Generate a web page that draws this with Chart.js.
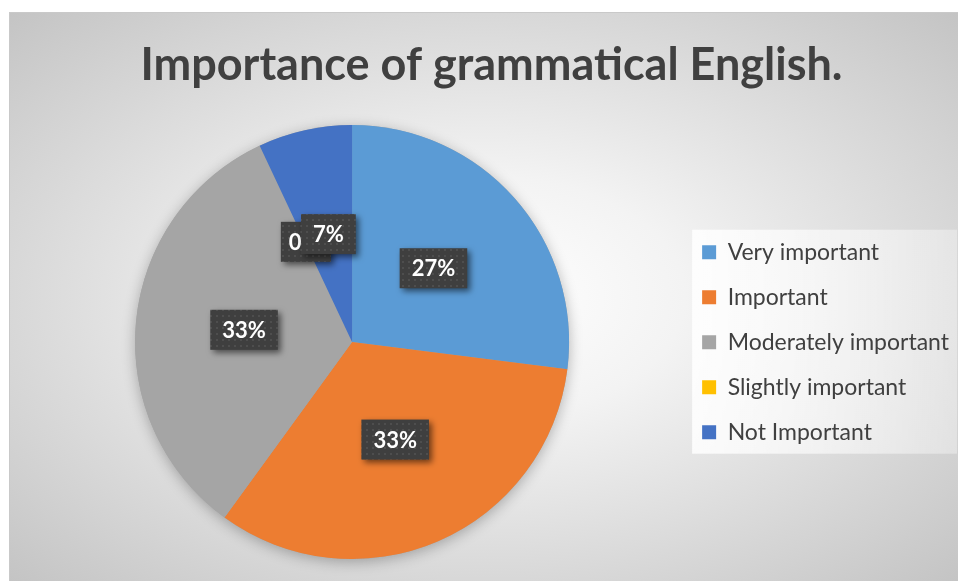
<!DOCTYPE html>
<html>
<head>
<meta charset="utf-8">
<script src="https://cdn.jsdelivr.net/npm/chart.js@4.4.1/dist/chart.umd.min.js"></script>
<style>
  html, body { margin: 0; padding: 0; background: #ffffff; }
  #wrap {
    position: absolute;
    left: 9px;
    top: 12px;
    width: 949px;
    height: 569px;
    border-top: 1px solid #c9c9c9;
    border-left: 1px solid #c9c9c9;
    box-sizing: border-box;
    background: radial-gradient(ellipse farthest-corner at 50% 50%, #ffffff 0%, #f3f3f3 30%, #c4c4c4 100%);
  }
  #wrap canvas { position: absolute; left: 0; top: 0; }
</style>
</head>
<body>
<div id="wrap"><canvas id="myChart"></canvas></div>
<script>
// 資料
const categories = ['Very important', 'Important', 'Moderately important', 'Slightly important', 'Not Important'];
const percents = [27, 33, 33, 0, 7];
const sliceColors = ['#5B9BD5', '#ED7D31', '#A5A5A5', '#FFC000', '#4472C4'];

const FONT = 'Lato, "Liberation Sans", sans-serif';

// 標籤文字：0 不加 %
function labelText(v) {
    return v === 0 ? '0' : v + '%';
}

// 深灰點狀底紋
function makePattern(ctx) {
    const p = document.createElement('canvas');
    p.width = 6;
    p.height = 6;
    const pc = p.getContext('2d');
    pc.fillStyle = '#3f3f3f';
    pc.fillRect(0, 0, 6, 6);
    pc.fillStyle = '#4e4e4e';
    pc.fillRect(2, 2, 2, 2);
    return ctx.createPattern(p, 'repeat');
}

// 圓餅陰影：先畫一個有陰影的圓，扇形蓋在上面
const pieShadow = {
    id: 'pieShadow',
    beforeDatasetsDraw(chart) {
        const arc = chart.getDatasetMeta(0).data[0];
        if (!arc) return;
        const ctx = chart.ctx;
        ctx.save();
        ctx.shadowColor = 'rgba(0,0,0,0.28)';
        ctx.shadowBlur = 14;
        ctx.shadowOffsetY = 3;
        ctx.fillStyle = '#a5a5a5';
        ctx.beginPath();
        ctx.arc(arc.x, arc.y, arc.outerRadius, 0, Math.PI * 2);
        ctx.fill();
        ctx.restore();
    }
};

// 圖例的白底框
const legendBg = {
    id: 'legendBg',
    beforeDraw(chart) {
        const boxes = chart.legend && chart.legend.legendHitBoxes;
        if (!boxes || !boxes.length) return;
        const left = Math.min(...boxes.map(b => b.left)) - 10;
        const top = Math.min(...boxes.map(b => b.top)) - 11;
        const right = Math.max(...boxes.map(b => b.left + b.width)) + 8;
        const bottom = Math.max(...boxes.map(b => b.top + b.height)) + 10;
        const ctx = chart.ctx;
        ctx.save();
        const g = ctx.createLinearGradient(left, 0, right, 0);
        g.addColorStop(0, 'rgba(255,255,255,0.85)');
        g.addColorStop(1, 'rgba(255,255,255,0.35)');
        ctx.fillStyle = g;
        ctx.fillRect(left, top, right - left, bottom - top);
        ctx.restore();
    }
};

// 資料標籤（深色方框 + 白字）
const boxLabels = {
    id: 'boxLabels',
    afterDatasetsDraw(chart) {
        const ctx = chart.ctx;
        const meta = chart.getDatasetMeta(0);
        const pattern = makePattern(ctx);
        ctx.save();
        ctx.font = 'bold 22px ' + FONT;
        ctx.textBaseline = 'middle';
        meta.data.forEach((arc, i) => {
            const pt = arc.getCenterPoint();
            const txt = labelText(percents[i]);
            const tw = ctx.measureText(txt).width;
            const w = Math.max(tw + 24, 50);
            const h = 40;
            const left = pt.x - w / 2;
            const top = pt.y - 2 - h / 2;
            ctx.save();
            ctx.shadowColor = 'rgba(0,0,0,0.55)';
            ctx.shadowBlur = 6;
            ctx.shadowOffsetX = 3;
            ctx.shadowOffsetY = 3;
            ctx.fillStyle = pattern;
            ctx.fillRect(left, top, w, h);
            ctx.restore();
            // 窄的標籤文字靠左
            const tx = (tw + 24 < 50) ? left + 8 : left + (w - tw) / 2;
            ctx.fillStyle = '#ffffff';
            ctx.textAlign = 'left';
            ctx.fillText(txt, tx, top + h / 2 + 1);
        });
        ctx.restore();
    }
};

const canvas = document.getElementById('myChart');
canvas.width = 949;
canvas.height = 569;

new Chart(canvas, {
    type: 'pie',
    data: {
        labels: categories,
        datasets: [{
            data: percents,
            backgroundColor: sliceColors,
            borderWidth: 0
        }]
    },
    options: {
        responsive: false,
        animation: false,
        layout: {
            padding: { left: 14, right: 0, top: 0, bottom: 23 }
        },
        plugins: {
            title: {
                display: true,
                text: 'Importance of grammatical English.',
                color: '#404040',
                font: { family: FONT, size: 45, weight: 'bold' },
                padding: { top: 25, bottom: 33 }
            },
            legend: {
                position: 'right',
                // 空白標題只用來把圖例往下推
                title: {
                    display: true,
                    text: '',
                    font: { size: 12 },
                    padding: { top: 98, bottom: 0 }
                },
                labels: {
                    color: '#404040',
                    font: { family: FONT, size: 23 },
                    boxWidth: 14,
                    boxHeight: 14,
                    padding: 22
                }
            },
            tooltip: { enabled: false }
        }
    },
    plugins: [legendBg, pieShadow, boxLabels]
});
</script>
</body>
</html>
